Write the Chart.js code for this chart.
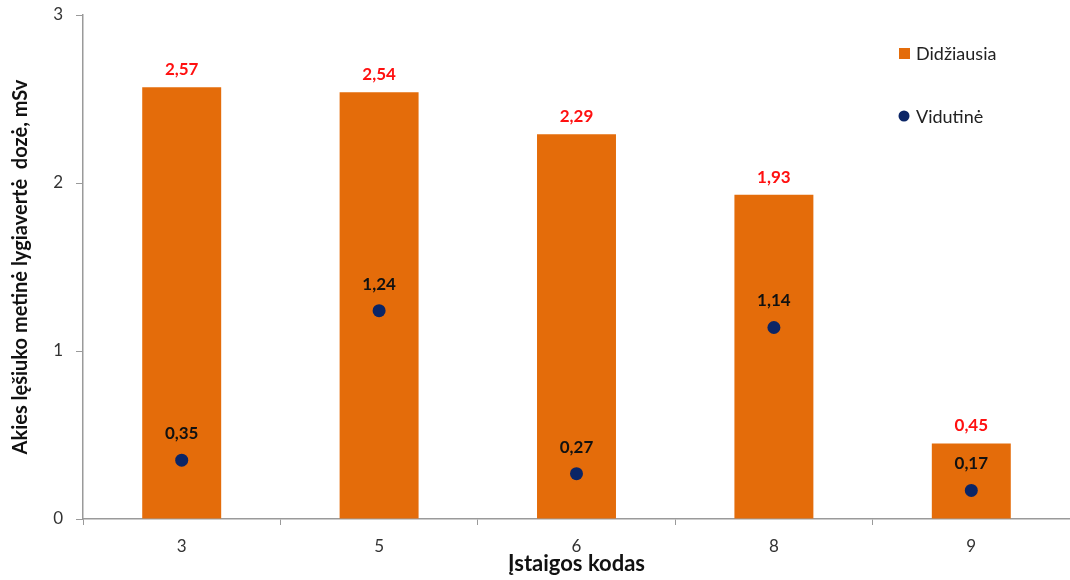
<!DOCTYPE html>
<html>
<head>
<meta charset="utf-8">
<script src="https://cdn.jsdelivr.net/npm/chart.js@4/dist/chart.umd.min.js"></script>
<style>
  html, body { margin: 0; padding: 0; background: #fff; }
  #wrap { width: 1070px; height: 580px; position: relative; }
</style>
</head>
<body>
<div id="wrap"><canvas id="dozes"></canvas></div>
<script>
"use strict"

// duomenys
let kodai = ["3", "5", "6", "8", "9"]
let didziausia = [2.57, 2.54, 2.29, 1.93, 0.45]
let vidutine = [0.35, 1.24, 0.27, 1.14, 0.17]
let yTicks = [0, 1, 2, 3]

let orange = "#E46C0A"
let navy = "#0B2566"
let fontas = "Lato, 'Open Sans', sans-serif"

let fmt = v => v.toFixed(2).replace(".", ",")

// reiksmiu etiketes ir legenda
let etiketes = {
    id: "etiketes",
    afterDatasetsDraw(chart) {
        let ctx = chart.ctx
        ctx.save()
        ctx.textAlign = "center"
        ctx.textBaseline = "alphabetic"
        ctx.font = "bold 17px " + fontas

        chart.getDatasetMeta(0).data.forEach((bar, i) => {
            ctx.fillStyle = "#FF1010"
            ctx.fillText(fmt(didziausia[i]), bar.x, bar.y - 12)
        })
        chart.getDatasetMeta(1).data.forEach((pt, i) => {
            ctx.fillStyle = "#111"
            ctx.fillText(fmt(vidutine[i]), pt.x, pt.y - 21)
        })

        // legenda
        ctx.textAlign = "left"
        ctx.textBaseline = "middle"
        ctx.font = "18px " + fontas
        ctx.fillStyle = orange
        ctx.fillRect(899, 48, 11, 11)
        ctx.fillStyle = "#222"
        ctx.fillText("Didžiausia", 916, 54)
        ctx.fillStyle = navy
        ctx.beginPath()
        ctx.arc(904, 116, 5.5, 0, Math.PI * 2)
        ctx.fill()
        ctx.fillStyle = "#222"
        ctx.fillText("Vidutinė", 916, 117)
        ctx.restore()
    }
}

let grafikas = new Chart(document.querySelector("#dozes"), {
    type: "bar",
    data: {
        labels: kodai,
        datasets: [{
            label: "Didžiausia",
            data: didziausia,
            backgroundColor: orange,
            categoryPercentage: 1,
            barPercentage: 0.4,
            order: 2
        }, {
            type: "line",
            label: "Vidutinė",
            data: vidutine,
            showLine: false,
            pointRadius: 6.5,
            pointHoverRadius: 6.5,
            pointBackgroundColor: navy,
            pointBorderColor: navy,
            pointBorderWidth: 0,
            order: 1
        }]
    },
    options: {
        responsive: true,
        maintainAspectRatio: false,
        animation: false,
        layout: { autoPadding: false, padding: { top: 15, right: -3, left: 0, bottom: 0 } },
        plugins: {
            legend: { display: false },
            tooltip: { enabled: false }
        },
        scales: {
            x: {
                offset: true,
                afterFit: s => { s.height = 61; s.paddingLeft = 0; s.paddingRight = 0 },
                border: { color: "#9a9a9a", width: 1.5 },
                grid: { offset: true, drawOnChartArea: false, tickLength: 6, color: "#9a9a9a" },
                ticks: { color: "#333", padding: 11, font: { family: fontas, size: 17 } },
                title: {
                    display: true,
                    text: "Įstaigos kodas",
                    color: "#111",
                    padding: { top: 0, bottom: 3 },
                    font: { family: fontas, size: 22, weight: "bold" }
                }
            },
            y: {
                min: 0,
                max: 3,
                afterFit: s => { s.width = 83; s.paddingTop = 0; s.paddingBottom = 0 },
                afterBuildTicks: s => { s.ticks = yTicks.map(v => ({ value: v })) },
                border: { color: "#9a9a9a", width: 1.5 },
                grid: { drawOnChartArea: false, tickLength: 7, color: "#9a9a9a" },
                ticks: { color: "#333", padding: 13, font: { family: fontas, size: 17 } },
                title: {
                    display: true,
                    text: "Akies lęšiuko metinė lygiavertė  dozė, mSv",
                    color: "#111",
                    padding: { top: 9, bottom: 0 },
                    font: { family: fontas, size: 20, weight: "bold" }
                }
            }
        }
    },
    plugins: [etiketes]
})
</script>
</body>
</html>
